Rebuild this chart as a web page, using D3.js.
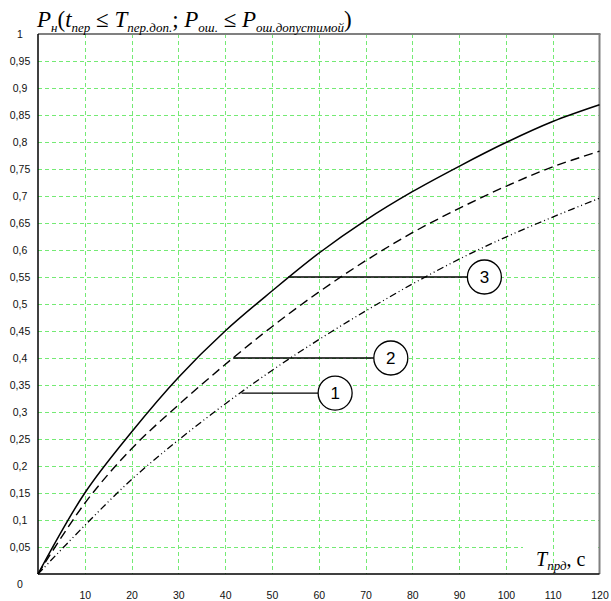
<!DOCTYPE html>
<html>
<head>
<meta charset="utf-8">
<script src="https://cdn.jsdelivr.net/npm/d3@7"></script>
<style>
  body { margin: 0; background: #fff; }
  svg { display: block; }
</style>
</head>
<body>
<svg id="chart"></svg>
<script>
// time axis, seconds
const tValues = [0, 10, 20, 30, 40, 50, 60, 70, 80, 90, 100, 110, 120];
// curve 3 (solid), curve 2 (dashed), curve 1 (dash-dot-dot)
const curve3 = [0, 0.15, 0.263, 0.364, 0.45, 0.524, 0.594, 0.655, 0.708, 0.755, 0.799, 0.838, 0.869];
const curve2 = [0, 0.131, 0.232, 0.313, 0.388, 0.458, 0.522, 0.58, 0.632, 0.677, 0.718, 0.754, 0.783];
const curve1 = [0, 0.09, 0.175, 0.248, 0.315, 0.377, 0.434, 0.487, 0.537, 0.583, 0.624, 0.661, 0.696];

const xTicks = [10, 20, 30, 40, 50, 60, 70, 80, 90, 100, 110, 120];
const yTicks = [0, 0.05, 0.1, 0.15, 0.2, 0.25, 0.3, 0.35, 0.4, 0.45, 0.5, 0.55, 0.6, 0.65, 0.7, 0.75, 0.8, 0.85, 0.9, 0.95, 1];

// callouts: label, start of leader on curve (t, value), circle centre t
const calloutLabels = ["1", "2", "3"];
const calloutStartT = [43.5, 41.7, 53.5];
const calloutValue = [0.335, 0.4, 0.55];
const calloutCircleT = [63.5, 75.4, 95.4];

const W = 611, H = 601;
const margin = { top: 34, right: 11.5, bottom: 27, left: 38 };

const svg = d3.select("#chart")
  .attr("width", W)
  .attr("height", H);

const x = d3.scaleLinear().domain([0, 120]).range([margin.left, W - margin.right]);
const y = d3.scaleLinear().domain([0, 1]).range([H - margin.bottom, margin.top]);

const gridColor = "#74ea74";

// horizontal grid
svg.append("g")
  .selectAll("line")
  .data(yTicks.filter(d => d > 0 && d < 1))
  .join("line")
  .attr("x1", x(0))
  .attr("x2", x(120))
  .attr("y1", d => Math.round(y(d)) + 0.5)
  .attr("y2", d => Math.round(y(d)) + 0.5)
  .attr("stroke", gridColor)
  .attr("stroke-width", 1)
  .attr("stroke-dasharray", "4,3");

// white patch behind axis title
svg.append("rect")
  .attr("x", 523)
  .attr("y", 541)
  .attr("width", 75)
  .attr("height", 31)
  .attr("fill", "#fff");

// vertical grid
svg.append("g")
  .selectAll("line")
  .data(xTicks.filter(d => d < 120))
  .join("line")
  .attr("x1", d => Math.round(x(d)) + 0.5)
  .attr("x2", d => Math.round(x(d)) + 0.5)
  .attr("y1", y(1))
  .attr("y2", y(0))
  .attr("stroke", gridColor)
  .attr("stroke-width", 1)
  .attr("stroke-dasharray", "4,3");

// frame: gray top and right, black left and bottom
svg.append("line")
  .attr("x1", x(0)).attr("x2", x(120) + 1)
  .attr("y1", y(1)).attr("y2", y(1))
  .attr("stroke", "#808080").attr("stroke-width", 2);
svg.append("line")
  .attr("x1", x(120)).attr("x2", x(120))
  .attr("y1", y(1)).attr("y2", y(0))
  .attr("stroke", "#808080").attr("stroke-width", 2);
svg.append("line")
  .attr("x1", x(0)).attr("x2", x(0))
  .attr("y1", y(1)).attr("y2", y(0))
  .attr("stroke", "#000").attr("stroke-width", 1.5);
svg.append("line")
  .attr("x1", x(0)).attr("x2", x(120))
  .attr("y1", y(0)).attr("y2", y(0))
  .attr("stroke", "#000").attr("stroke-width", 1.5);

// axes (labels only)
const fmt = d => String(d).replace(".", ",");

const yAxis = svg.append("g")
  .attr("transform", `translate(${x(0)},0)`)
  .call(d3.axisLeft(y).tickValues(yTicks).tickSize(0).tickFormat(fmt));
yAxis.select(".domain").remove();
yAxis.selectAll("text")
  .attr("x", -18)
  .attr("text-anchor", "middle")
  .attr("font-family", "Liberation Sans, Arial, sans-serif")
  .attr("font-size", 10.5)
  .attr("fill", "#111")
  .attr("dy", d => d === 0 ? "1.3em" : "0.32em");

const xAxis = svg.append("g")
  .attr("transform", `translate(0,${y(0)})`)
  .call(d3.axisBottom(x).tickValues(xTicks).tickSize(0).tickFormat(d => d));
xAxis.select(".domain").remove();
xAxis.selectAll("text")
  .attr("y", 18)
  .attr("dy", "0.71em")
  .attr("font-family", "Liberation Sans, Arial, sans-serif")
  .attr("font-size", 10.5)
  .attr("fill", "#111");

// curves
const series = [
  { values: curve1, dash: "7,3,1,3,1,3", width: 1.3 },
  { values: curve2, dash: "9,5", width: 1.4 },
  { values: curve3, dash: null, width: 1.5 }
];

const line = d3.line()
  .x((d, i) => x(tValues[i]))
  .y(d => y(d))
  .curve(d3.curveCatmullRom.alpha(0.5));

svg.append("g")
  .selectAll("path")
  .data(series)
  .join("path")
  .attr("d", d => line(d.values))
  .attr("fill", "none")
  .attr("stroke", "#000")
  .attr("stroke-width", d => d.width)
  .attr("stroke-dasharray", d => d.dash);

// callouts
const r = 17;
const callouts = svg.append("g")
  .selectAll("g")
  .data(calloutLabels)
  .join("g");

callouts.append("line")
  .attr("x1", (d, i) => x(calloutStartT[i]))
  .attr("x2", (d, i) => x(calloutCircleT[i]) - r)
  .attr("y1", (d, i) => y(calloutValue[i]))
  .attr("y2", (d, i) => y(calloutValue[i]))
  .attr("stroke", "#000")
  .attr("stroke-width", 1.3);

callouts.append("circle")
  .attr("cx", (d, i) => x(calloutCircleT[i]))
  .attr("cy", (d, i) => y(calloutValue[i]))
  .attr("r", r)
  .attr("fill", "#fff")
  .attr("stroke", "#000")
  .attr("stroke-width", 1.3);

callouts.append("text")
  .attr("x", (d, i) => x(calloutCircleT[i]))
  .attr("y", (d, i) => y(calloutValue[i]))
  .attr("dy", "0.36em")
  .attr("text-anchor", "middle")
  .attr("font-family", "Liberation Sans, Arial, sans-serif")
  .attr("font-size", 17)
  .text(d => d);

// title on the y axis
const title = svg.append("text")
  .attr("x", 37)
  .attr("y", 27)
  .attr("font-family", "Liberation Serif, Times New Roman, serif")
  .attr("font-size", 23)
  .attr("fill", "#000");

const titleParts = [
  { t: "P", it: true },
  { t: "н", it: true, sub: true },
  { t: "(", it: false },
  { t: "t", it: true },
  { t: "пер", it: true, sub: true },
  { t: " ≤ ", it: false },
  { t: "T", it: true },
  { t: "пер.доп.", it: true, sub: true },
  { t: "; ", it: false },
  { t: "P", it: true },
  { t: "ош.", it: true, sub: true },
  { t: " ≤ ", it: false },
  { t: "P", it: true },
  { t: "ош.допустимой", it: true, sub: true },
  { t: ")", it: false }
];

let prevSub = false;
titleParts.forEach(p => {
  const sp = title.append("tspan")
    .attr("font-style", p.it ? "italic" : "normal")
    .attr("font-size", p.sub ? 13 : 23)
    .text(p.t);
  if (p.sub && !prevSub) sp.attr("dy", 5);
  if (!p.sub && prevSub) sp.attr("dy", -5);
  prevSub = !!p.sub;
});

// x axis title
const xTitle = svg.append("text")
  .attr("x", 536)
  .attr("y", 566)
  .attr("font-family", "Liberation Serif, Times New Roman, serif")
  .attr("fill", "#000");
xTitle.append("tspan").attr("font-style", "italic").attr("font-size", 20).text("T");
xTitle.append("tspan").attr("font-style", "italic").attr("font-size", 13).attr("dy", 4).text("прд");
xTitle.append("tspan").attr("font-size", 20).attr("dy", -4).text(", с");
</script>
</body>
</html>
